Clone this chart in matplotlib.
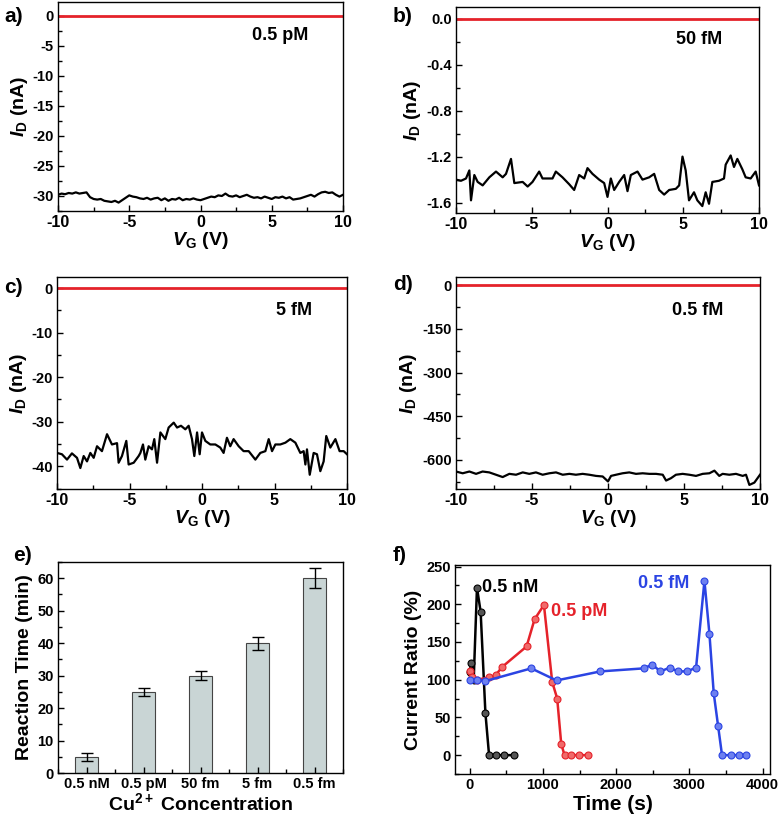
import matplotlib
matplotlib.use("Agg")
import matplotlib.pyplot as plt
from matplotlib.ticker import MultipleLocator, FormatStrFormatter
import numpy as np

plt.rcParams['font.family'] = ['Liberation Sans', 'DejaVu Sans']
plt.rcParams['font.weight'] = 'bold'
plt.rcParams['mathtext.fontset'] = 'custom'
plt.rcParams['mathtext.rm'] = 'Liberation Sans:bold'
plt.rcParams['mathtext.it'] = 'Liberation Sans:bold:italic'
plt.rcParams['mathtext.bf'] = 'Liberation Sans:bold'
plt.rcParams['axes.linewidth'] = 1.0
plt.rcParams['axes.unicode_minus'] = False

# ---------------- data ----------------
vg_a = list(np.arange(-10, 10.001, 0.25))
id_a = [-29.8, -29.6, -29.7, -29.5, -29.6, -29.4, -29.6, -29.5, -29.4,
        -30.2, -30.5, -30.6, -30.5, -30.8, -30.9, -31.0, -30.8, -31.1, -30.7,
        -30.3, -29.9, -30.1, -30.2, -30.4, -30.5, -30.3, -30.6, -30.4, -30.3,
        -30.7, -30.4, -30.8, -30.5, -30.6, -30.3, -30.7, -30.5, -30.6, -30.4,
        -30.6, -30.7, -30.5, -30.3, -30.1, -30.2, -29.9, -30.0, -29.6, -30.0,
        -30.1, -29.9, -30.2, -30.0, -29.8, -30.1, -30.3, -30.2, -30.4, -30.1,
        -30.3, -30.5, -30.2, -30.3, -30.1, -30.4, -30.2, -30.6, -30.5, -30.4,
        -30.2, -30.0, -29.8, -30.1, -29.7, -29.4, -29.3, -29.5, -29.4, -29.8,
        -30.1, -29.8]

vg_b = [-10.0, -9.67, -9.34, -9.12, -9.01, -8.79, -8.57, -8.24, -7.80, -7.36,
        -6.92, -6.70, -6.37, -6.15, -5.60, -5.27, -4.95, -4.51, -4.29, -3.63,
        -3.41, -2.97, -2.53, -2.20, -1.87, -1.54, -1.32, -0.99, -0.55, -0.22,
        0.0, 0.22, 0.44, 0.77, 1.10, 1.32, 1.54, 1.98, 2.31, 2.75,
        3.08, 3.41, 3.74, 4.07, 4.51, 4.73, 4.95, 5.16, 5.38, 5.71,
        5.93, 6.26, 6.48, 6.70, 6.92, 7.36, 7.69, 7.80, 8.13, 8.35,
        8.57, 8.90, 9.12, 9.45, 9.78, 10.0]
id_b = [-1.40, -1.41, -1.39, -1.32, -1.58, -1.36, -1.42, -1.45, -1.38, -1.33,
        -1.38, -1.35, -1.22, -1.43, -1.42, -1.46, -1.42, -1.33, -1.39, -1.39,
        -1.33, -1.38, -1.44, -1.49, -1.36, -1.39, -1.30, -1.35, -1.40, -1.43,
        -1.55, -1.39, -1.49, -1.42, -1.36, -1.50, -1.36, -1.33, -1.40, -1.38,
        -1.35, -1.49, -1.53, -1.49, -1.48, -1.45, -1.20, -1.32, -1.58, -1.51,
        -1.58, -1.63, -1.51, -1.61, -1.42, -1.41, -1.39, -1.27, -1.19, -1.29,
        -1.22, -1.31, -1.38, -1.39, -1.33, -1.45]

vg_c = [-10.0, -9.66, -9.31, -8.97, -8.62, -8.39, -8.16, -7.93, -7.70, -7.47,
        -7.24, -6.90, -6.55, -6.21, -5.86, -5.75, -5.52, -5.22, -5.06, -4.71,
        -4.37, -4.25, -4.07, -3.91, -3.68, -3.45, -3.29, -3.10, -2.87, -2.53,
        -2.30, -1.95, -1.72, -1.45, -1.15, -0.92, -0.69, -0.53, -0.34, -0.16,
        0.0, 0.23, 0.57, 0.92, 1.26, 1.49, 1.72, 1.95, 2.18, 2.53,
        2.87, 3.22, 3.68, 4.02, 4.37, 4.60, 4.83, 5.06, 5.40, 5.75,
        6.09, 6.44, 6.78, 7.01, 7.13, 7.24, 7.43, 7.70, 7.93, 8.16,
        8.39, 8.57, 8.85, 9.20, 9.49, 9.77, 10.0]
id_c = [-37.0, -37.3, -38.5, -37.1, -38.1, -40.4, -37.7, -38.9, -37.0, -38.1,
        -35.5, -36.6, -32.8, -35.1, -34.8, -39.2, -37.7, -34.3, -39.6, -39.2,
        -37.7, -37.0, -35.1, -38.5, -35.5, -36.2, -33.9, -39.2, -32.4, -33.9,
        -31.3, -30.2, -31.3, -30.9, -31.7, -30.9, -33.9, -37.7, -32.4, -37.3,
        -32.4, -34.3, -35.1, -35.1, -35.8, -37.0, -33.6, -35.5, -33.9, -35.5,
        -36.6, -36.6, -38.5, -37.0, -36.6, -33.9, -36.6, -35.1, -35.1, -34.7,
        -33.9, -34.7, -37.0, -36.6, -39.6, -36.2, -41.9, -37.0, -37.3, -41.1,
        -38.9, -33.2, -35.8, -33.9, -36.6, -36.6, -37.3]

vg_d = [-10.0, -9.56, -9.12, -8.68, -8.25, -7.81, -7.37, -6.93, -6.49, -6.05,
        -5.61, -5.18, -4.74, -4.30, -3.86, -3.42, -2.98, -2.54, -2.11, -1.67,
        -1.23, -0.79, -0.35, 0.0, 0.20, 0.53, 0.96, 1.40, 1.84, 2.28,
        2.72, 3.16, 3.60, 3.82, 4.14, 4.47, 4.91, 5.35, 5.79, 6.23,
        6.67, 7.00, 7.32, 7.54, 7.98, 8.42, 8.86, 9.08, 9.30, 9.63, 10.0]
id_d = [-640, -646, -640, -648, -640, -643, -651, -659, -648, -651,
        -643, -648, -643, -651, -646, -643, -651, -648, -651, -648,
        -651, -655, -657, -674, -655, -651, -646, -643, -648, -646,
        -648, -648, -651, -671, -663, -651, -648, -651, -655, -648,
        -646, -637, -655, -648, -651, -648, -655, -651, -686, -678, -651]

conc_e = ['0.5 nM', '0.5 pM', '50 fm', '5 fm', '0.5 fm']
time_e = [5, 25, 30, 40, 60]
err_e = [1.2, 1.3, 1.5, 2.0, 3.0]

t_nM = [0, 20, 55, 100, 150, 215, 265, 355, 470, 600]
r_nM = [110, 122, 99, 222, 190, 56, 0, 0, 0, 0]
t_pM = [0, 30, 105, 264, 355, 445, 777, 886, 1014, 1127, 1195, 1250, 1295, 1377, 1490, 1614]
r_pM = [111, 104, 100, 103, 106, 117, 144, 180, 199, 97, 75, 15, 0, 0, 0, 0]
t_fM = [0, 105, 209, 841, 1186, 1786, 2377, 2491, 2605, 2732, 2841, 2968, 3091,
        3205, 3273, 3332, 3391, 3445, 3568, 3682, 3777]
r_fM = [100, 100, 98, 115, 99, 111, 115, 120, 111, 116, 111, 111, 116,
        231, 161, 82, 39, 0, 0, 0, 0]

RED = '#e5222a'
BLUE = '#2b44e3'

W, H = 778, 821
fig = plt.figure(figsize=(W / 100, H / 100), dpi=100)


def make_ax(l, r, t, b):
    return fig.add_axes([l / W, 1 - b / H, (r - l) / W, (b - t) / H])


def style(ax, xmaj, xmin, ymaj, ymin, xfs=11.5, yfs=10.5):
    ax.xaxis.set_major_locator(MultipleLocator(xmaj))
    ax.xaxis.set_minor_locator(MultipleLocator(xmin))
    ax.yaxis.set_major_locator(MultipleLocator(ymaj))
    ax.yaxis.set_minor_locator(MultipleLocator(ymin))
    ax.tick_params(which='both', direction='in', top=False, right=False, width=1.0)
    ax.tick_params(which='major', length=4)
    ax.tick_params(which='minor', length=3)
    ax.tick_params(axis='x', labelsize=xfs, pad=3)
    ax.tick_params(axis='y', labelsize=yfs, pad=3)


def iv_panel(ax, vg, idv, ylim, ymaj, ymin, label, ylabfmt=None):
    ax.plot([-10, 10], [0, 0], color=RED, lw=2.0)
    ax.plot(vg, idv, color='black', lw=1.6)
    ax.set_xlim(-10, 10)
    ax.set_ylim(*ylim)
    style(ax, 5, 2.5, ymaj, ymin)
    if ylabfmt:
        ax.yaxis.set_major_formatter(FormatStrFormatter(ylabfmt))
    ax.set_xlabel('$V_{\\mathrm{G}}$ (V)', fontsize=14, fontweight='bold', labelpad=0)
    ax.set_ylabel('$I_{\\mathrm{D}}$ (nA)', fontsize=14, fontweight='bold', labelpad=2)
    ax.text(0.88, 0.84, label, transform=ax.transAxes, ha='right', va='center',
            fontsize=13, fontweight='bold')


ax_a = make_ax(58, 343, 2, 211)
iv_panel(ax_a, vg_a, id_a, (-32.5, 2.3), 5, 2.5, '0.5 pM')
ax_b = make_ax(456, 759, 7, 213)
iv_panel(ax_b, vg_b, id_b, (-1.69, 0.1), 0.4, 0.2, '50 fM', ylabfmt='%.1f')
ax_c = make_ax(57, 347, 277, 489)
iv_panel(ax_c, vg_c, id_c, (-45.1, 2.5), 10, 5, '5 fM')
ax_d = make_ax(456, 760, 277, 489)
iv_panel(ax_d, vg_d, id_d, (-700, 28), 150, 75, '0.5 fM')

# panel e
ax_e = make_ax(58, 343, 562, 773)
pos = np.arange(1, len(conc_e) + 1)
ax_e.bar(pos, time_e, width=0.41, color='#c9d5d5', edgecolor='#444444', lw=0.8)
ax_e.errorbar(pos, time_e, yerr=err_e, fmt='none', ecolor='black', elinewidth=1.0,
              capsize=4, capthick=1.0)
ax_e.set_xlim(0.5, 5.5)
ax_e.set_ylim(0, 65)
style(ax_e, 1, 0.5, 10, 5, xfs=10.5, yfs=10.5)
ax_e.set_xticks(pos)
ax_e.set_xticklabels(conc_e, fontweight='bold')
ax_e.set_ylabel('Reaction Time (min)', fontsize=14, fontweight='bold', labelpad=3)
ax_e.set_xlabel('Cu$^{2+}$ Concentration', fontsize=14, fontweight='bold', labelpad=1)

# panel f
ax_f = make_ax(455, 770, 565, 774)
ms = 5
ax_f.plot(t_nM, r_nM, '-o', color='black', lw=1.8, ms=ms, mfc='#555555', mec='black', mew=0.8)
ax_f.plot(t_pM, r_pM, '-o', color=RED, lw=1.8, ms=ms, mfc='#f06a6a', mec=RED, mew=0.8)
ax_f.plot(t_fM, r_fM, '-o', color=BLUE, lw=1.8, ms=ms, mfc='#6d80f0', mec=BLUE, mew=0.8)
ax_f.set_xlim(-200, 4100)
ax_f.set_ylim(-25, 252)
style(ax_f, 1000, 500, 50, 25, xfs=10.5, yfs=10.5)
ax_f.set_xlabel('Time (s)', fontsize=15, fontweight='bold', labelpad=2)
ax_f.set_ylabel('Current Ratio (%)', fontsize=14, fontweight='bold', labelpad=3)
ax_f.text(173, 222, '0.5 nM', color='black', fontsize=13, fontweight='bold', va='center', ha='left')
ax_f.text(1105, 190, '0.5 pM', color=RED, fontsize=13, fontweight='bold', va='center', ha='left')
ax_f.text(2300, 227, '0.5 fM', color=BLUE, fontsize=13, fontweight='bold', va='center', ha='left')

# panel labels
for txt, x, y in [('a)', 4, 17), ('b)', 393, 17), ('c)', 4, 287), ('d)', 393, 285),
                  ('e)', 13, 555), ('f)', 393, 555)]:
    fig.text(x / W, 1 - y / H, txt, fontsize=15, fontweight='bold', ha='left', va='center')

fig.savefig('out.png', dpi=100)
